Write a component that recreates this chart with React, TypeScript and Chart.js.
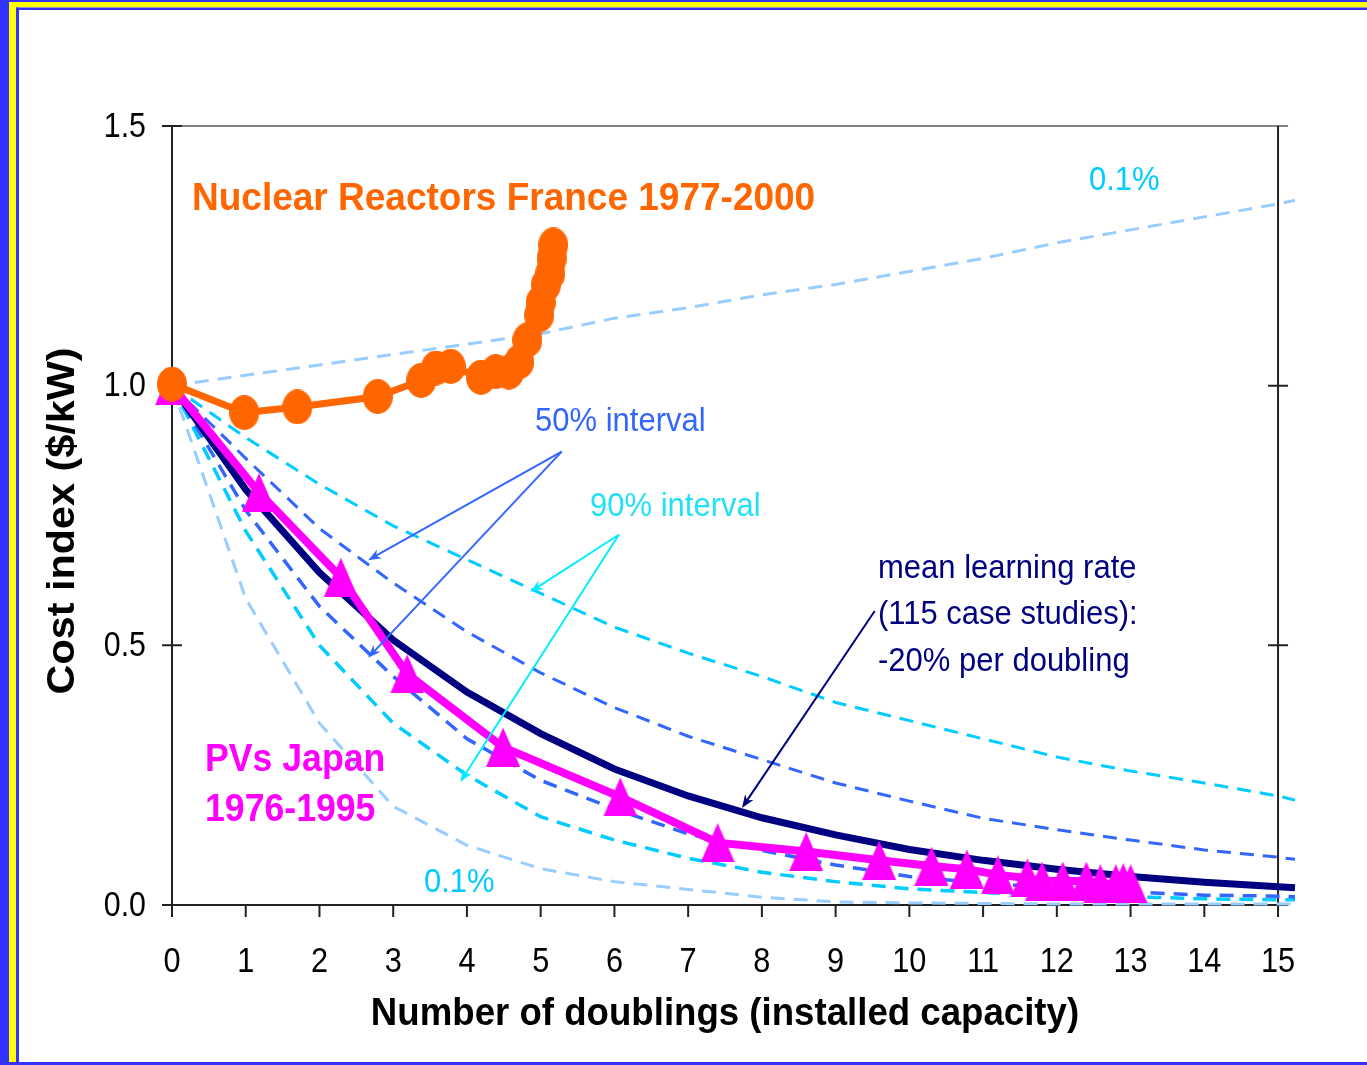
import { useEffect, useRef } from "react";
import { Chart, registerables } from "chart.js";

Chart.register(...registerables);

// ---- axis ticks ----
const X_TICKS = [0, 1, 2, 3, 4, 5, 6, 7, 8, 9, 10, 11, 12, 13, 14, 15];
const Y_TICKS = [0, 0.5, 1.0, 1.5];
const Y_TICK_LABELS = ["0.0", "0.5", "1.0", "1.5"];
const X_MAX = 15.23;

// ---- learning-curve distribution (x = doublings) ----
const DIST_X = [0, 1, 2, 3, 4, 5, 6, 7, 8, 9, 10, 11, 12, 13, 14, 15, 15.23];
const MEAN = [1.0, 0.8, 0.64, 0.51, 0.41, 0.33, 0.262, 0.21, 0.168, 0.135, 0.107, 0.086, 0.069, 0.055, 0.044, 0.035, 0.033];
const UPPER_01 = [1.0, 1.02, 1.04, 1.06, 1.08, 1.1, 1.13, 1.15, 1.175, 1.195, 1.22, 1.245, 1.275, 1.3, 1.325, 1.35, 1.357];
const UPPER_95 = [1.0, 0.9, 0.81, 0.73, 0.665, 0.6, 0.535, 0.485, 0.44, 0.39, 0.355, 0.32, 0.285, 0.258, 0.235, 0.21, 0.202];
const UPPER_75 = [1.0, 0.86, 0.725, 0.62, 0.526, 0.447, 0.38, 0.325, 0.28, 0.235, 0.2, 0.167, 0.145, 0.125, 0.106, 0.092, 0.088];
const LOWER_25 = [1.0, 0.76, 0.575, 0.44, 0.32, 0.24, 0.185, 0.137, 0.105, 0.077, 0.055, 0.042, 0.033, 0.025, 0.019, 0.017, 0.016];
const LOWER_05 = [1.0, 0.72, 0.5, 0.35, 0.25, 0.17, 0.125, 0.09, 0.063, 0.045, 0.031, 0.024, 0.019, 0.016, 0.012, 0.01, 0.01];
const LOWER_01 = [1.0, 0.59, 0.35, 0.19, 0.115, 0.07, 0.045, 0.03, 0.015, 0.006, 0.004, 0.003, 0.002, 0.002, 0.002, 0.002, 0.002];

// ---- PVs Japan 1976-1995 ----
const PV_X = [0, 1.18, 2.29, 3.19, 4.49, 6.08, 7.4, 8.6, 9.59, 10.3, 10.78, 11.2, 11.6, 11.8, 12.08, 12.4, 12.59, 12.8, 12.9, 13.0];
const PV_Y = [1.0, 0.794, 0.631, 0.445, 0.304, 0.208, 0.12, 0.103, 0.086, 0.075, 0.069, 0.058, 0.052, 0.046, 0.046, 0.046, 0.041, 0.041, 0.043, 0.041];

// ---- Nuclear Reactors France 1977-2000 ----
const NUC_X = [0, 0.98, 1.7, 2.79, 3.38, 3.58, 3.78, 4.19, 4.39, 4.57, 4.71, 4.82, 4.98, 5.0, 5.07, 5.13, 5.15, 5.17];
const NUC_Y = [1.003, 0.948, 0.959, 0.979, 1.01, 1.034, 1.037, 1.016, 1.027, 1.026, 1.046, 1.088, 1.136, 1.16, 1.194, 1.216, 1.245, 1.271];

// ---- annotation arrows (data coordinates: from -> to) ----
const ARROWS_50 = [
  [5.285, 0.873, 2.66, 0.664],
  [5.285, 0.873, 2.66, 0.476],
];
const ARROWS_90 = [
  [6.06, 0.713, 4.86, 0.603],
  [6.06, 0.713, 3.91, 0.237],
];
const ARROWS_MEAN = [[9.53, 0.566, 7.73, 0.187]];

const FONT = '"Liberation Sans", Arial, Helvetica, sans-serif';

function pts(xs: number[], ys: number[]) {
  return xs.map((x, i) => ({ x, y: ys[i] }));
}

function makeEllipse(w: number, h: number, color: string) {
  const c = document.createElement("canvas");
  c.width = w;
  c.height = h;
  const g = c.getContext("2d")!;
  g.fillStyle = color;
  g.beginPath();
  g.ellipse(w / 2, h / 2, w / 2, h / 2, 0, 0, Math.PI * 2);
  g.fill();
  return c;
}

function makeTriangle(w: number, h: number, color: string) {
  const c = document.createElement("canvas");
  c.width = w;
  c.height = h;
  const g = c.getContext("2d")!;
  g.fillStyle = color;
  g.beginPath();
  g.moveTo(w / 2, 0);
  g.lineTo(w, h);
  g.lineTo(0, h);
  g.closePath();
  g.fill();
  return c;
}

function drawArrow(ctx: CanvasRenderingContext2D, x1: number, y1: number, x2: number, y2: number, color: string, lw: number) {
  const ang = Math.atan2(y2 - y1, x2 - x1);
  const len = 13;
  const hw = 5;
  ctx.save();
  ctx.strokeStyle = color;
  ctx.fillStyle = color;
  ctx.lineWidth = lw;
  ctx.setLineDash([]);
  ctx.beginPath();
  ctx.moveTo(x1, y1);
  ctx.lineTo(x2 - Math.cos(ang) * len * 0.7, y2 - Math.sin(ang) * len * 0.7);
  ctx.stroke();
  ctx.beginPath();
  ctx.moveTo(x2, y2);
  ctx.lineTo(x2 - Math.cos(ang) * len + Math.sin(ang) * hw, y2 - Math.sin(ang) * len - Math.cos(ang) * hw);
  ctx.lineTo(x2 - Math.cos(ang) * len * 0.7, y2 - Math.sin(ang) * len * 0.7);
  ctx.lineTo(x2 - Math.cos(ang) * len - Math.sin(ang) * hw, y2 - Math.sin(ang) * len + Math.cos(ang) * hw);
  ctx.closePath();
  ctx.fill();
  ctx.restore();
}

function text(
  ctx: CanvasRenderingContext2D,
  s: string,
  x: number,
  y: number,
  font: string,
  color: string,
  align: CanvasTextAlign = "left",
  sx = 1,
  sy = 1
) {
  ctx.save();
  ctx.translate(x, y);
  ctx.scale(sx, sy);
  ctx.font = font;
  ctx.fillStyle = color;
  ctx.textAlign = align;
  ctx.textBaseline = "middle";
  ctx.fillText(s, 0, 0);
  ctx.restore();
}

const decorPlugin = {
  id: "decor",
  beforeDraw(chart: any) {
    const ctx = chart.ctx as CanvasRenderingContext2D;
    const W = chart.width;
    const H = chart.height;
    ctx.save();
    ctx.fillStyle = "#ffffff";
    ctx.fillRect(0, 0, W, H);
    const blue = "#3333ff";
    const yellow = "#ffff00";
    ctx.fillStyle = blue;
    ctx.fillRect(0, 0, 9, H);
    ctx.fillRect(0, 0, W, 2);
    ctx.fillStyle = yellow;
    ctx.fillRect(9, 2, 7, H - 2);
    ctx.fillRect(9, 2, W - 9, 5.5);
    ctx.fillStyle = blue;
    ctx.fillRect(16, 7.5, 3, H - 7.5);
    ctx.fillRect(16, 7.5, W - 16, 2.5);
    ctx.fillRect(0, 1062, W, 3);
    ctx.restore();
  },
  beforeDatasetsDraw(chart: any) {
    const ctx = chart.ctx as CanvasRenderingContext2D;
    const xs = chart.scales.x;
    const ys = chart.scales.y;
    const x0 = xs.getPixelForValue(0);
    const x15 = xs.getPixelForValue(15);
    const y0 = ys.getPixelForValue(0);
    const yTop = ys.getPixelForValue(1.5);
    ctx.save();
    ctx.lineWidth = 2;
    ctx.strokeStyle = "#808080";
    ctx.beginPath();
    ctx.moveTo(x0 - 10, yTop);
    ctx.lineTo(x15 + 10, yTop);
    ctx.stroke();
    ctx.strokeStyle = "#222";
    ctx.beginPath();
    ctx.moveTo(x0, yTop);
    ctx.lineTo(x0, y0 + 12);
    ctx.moveTo(x15, yTop);
    ctx.lineTo(x15, y0 + 12);
    ctx.moveTo(x0 - 10, y0);
    ctx.lineTo(x15 + 10, y0);
    for (const v of X_TICKS) {
      const px = xs.getPixelForValue(v);
      ctx.moveTo(px, y0);
      ctx.lineTo(px, y0 + 12);
    }
    for (const v of Y_TICKS) {
      const py = ys.getPixelForValue(v);
      ctx.moveTo(x0 - 10, py);
      ctx.lineTo(x0 + 10, py);
      if (v > 0 && v < 1.5) {
        ctx.moveTo(x15 - 10, py);
        ctx.lineTo(x15 + 10, py);
      }
    }
    ctx.stroke();
    ctx.restore();
  },
  afterDatasetsDraw(chart: any) {
    const ctx = chart.ctx as CanvasRenderingContext2D;
    const xs = chart.scales.x;
    const ys = chart.scales.y;
    const P = (a: number[]) => [xs.getPixelForValue(a[0]), ys.getPixelForValue(a[1]), xs.getPixelForValue(a[2]), ys.getPixelForValue(a[3])];
    for (const a of ARROWS_50) {
      const [x1, y1, x2, y2] = P(a);
      drawArrow(ctx, x1, y1, x2, y2, "#3366ff", 2);
    }
    for (const a of ARROWS_90) {
      const [x1, y1, x2, y2] = P(a);
      drawArrow(ctx, x1, y1, x2, y2, "#00eeff", 2);
    }
    for (const a of ARROWS_MEAN) {
      const [x1, y1, x2, y2] = P(a);
      drawArrow(ctx, x1, y1, x2, y2, "#000080", 2);
    }

    // tick labels
    const y0 = ys.getPixelForValue(0);
    X_TICKS.forEach((v) => {
      text(ctx, String(v), xs.getPixelForValue(v), y0 + 57, `33px ${FONT}`, "#000", "center", 0.93, 1.05);
    });
    Y_TICKS.forEach((v, i) => {
      text(ctx, Y_TICK_LABELS[i], xs.getPixelForValue(0) - 26, ys.getPixelForValue(v) + 1, `33px ${FONT}`, "#000", "right", 0.92, 1.05);
    });

    // axis titles
    text(ctx, "Number of doublings (installed capacity)", 725, 1014, `bold 37px ${FONT}`, "#000", "center", 0.99, 1.05);
    ctx.save();
    ctx.translate(63, 521);
    ctx.rotate(-Math.PI / 2);
    text(ctx, "Cost index ($/kW)", 0, 0, `bold 39px ${FONT}`, "#000", "center", 1.06, 1.0);
    ctx.restore();

    // annotations
    text(ctx, "Nuclear Reactors France 1977-2000", 192, 199, `bold 37px ${FONT}`, "#ff6600", "left", 1.0, 1.06);
    text(ctx, "0.1%", 1089, 181, `31px ${FONT}`, "#00ccff", "left", 1.0, 1.05);
    text(ctx, "50% interval", 535, 422, `31px ${FONT}`, "#3366ff", "left", 1.0, 1.05);
    text(ctx, "90% interval", 590, 507, `31px ${FONT}`, "#22e0f8", "left", 1.0, 1.05);
    text(ctx, "mean learning rate", 878, 569, `31px ${FONT}`, "#000080", "left", 1.0, 1.05);
    text(ctx, "(115 case studies):", 878, 615, `31px ${FONT}`, "#000080", "left", 1.0, 1.05);
    text(ctx, "-20% per doubling", 878, 662, `31px ${FONT}`, "#000080", "left", 1.0, 1.05);
    text(ctx, "PVs Japan", 205, 760, `bold 36px ${FONT}`, "#ff00ff", "left", 0.99, 1.06);
    text(ctx, "1976-1995", 205, 810, `bold 36px ${FONT}`, "#ff00ff", "left", 0.99, 1.06);
    text(ctx, "0.1%", 424, 883, `31px ${FONT}`, "#00ccff", "left", 1.0, 1.05);
  },
};

export default function App() {
  const ref = useRef<HTMLCanvasElement | null>(null);

  useEffect(() => {
    if (!ref.current) return;
    const circle = makeEllipse(30, 35, "#ff6600");
    const tri = makeTriangle(34, 39, "#ff00ff");
    const dashed = (label: string, ys: number[], color: string, w: number) => ({
      label,
      data: pts(DIST_X, ys),
      borderColor: color,
      borderWidth: w,
      borderDash: [14, 9],
      pointRadius: 0,
      fill: false,
      clip: false as any,
      tension: 0,
    });
    const chart = new Chart(ref.current, {
      type: "line",
      data: {
        datasets: [
          {
            label: "Nuclear Reactors France 1977-2000",
            data: pts(NUC_X, NUC_Y),
            borderColor: "#ff6600",
            backgroundColor: "#ff6600",
            borderWidth: 7,
            pointStyle: circle as any,
            pointRadius: 15,
            clip: false as any,
          },
          {
            label: "PVs Japan 1976-1995",
            data: pts(PV_X, PV_Y),
            borderColor: "#ff00ff",
            backgroundColor: "#ff00ff",
            borderWidth: 8,
            pointStyle: tri as any,
            pointRadius: 17,
            clip: false as any,
          },
          {
            label: "mean learning rate",
            data: pts(DIST_X, MEAN),
            borderColor: "#000080",
            borderWidth: 7,
            pointRadius: 0,
            clip: false as any,
          },
          dashed("50% lower", LOWER_25, "#3366ff", 3.5),
          dashed("90% lower", LOWER_05, "#00ccff", 3.5),
          dashed("50% upper", UPPER_75, "#3366ff", 3),
          dashed("90% upper", UPPER_95, "#00ccff", 3),
          dashed("0.1% lower", LOWER_01, "#99ccff", 3),
          dashed("0.1% upper", UPPER_01, "#99ccff", 3),
        ],
      },
      options: {
        animation: false,
        responsive: false,
        maintainAspectRatio: false,
        layout: { padding: { left: 172, top: 126, right: 72, bottom: 160 } },
        plugins: { legend: { display: false }, tooltip: { enabled: false } },
        scales: {
          x: { type: "linear", min: 0, max: X_MAX, display: false },
          y: { type: "linear", min: 0, max: 1.5, display: false },
        },
      },
      plugins: [decorPlugin],
    });
    return () => chart.destroy();
  }, []);

  return (
    <div style={{ position: "absolute", left: 0, top: 0, width: 1367, height: 1065 }}>
      <canvas ref={ref} width={1367} height={1065} style={{ display: "block", width: 1367, height: 1065 }} />
    </div>
  );
}
